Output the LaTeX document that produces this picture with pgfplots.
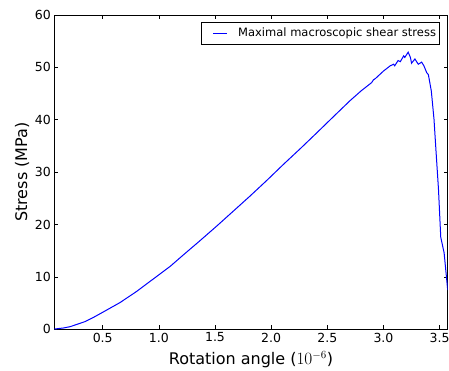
\documentclass[border=0pt]{standalone}
\usepackage{pgfplots}
\pgfplotsset{compat=1.18}
\usepackage{fontspec}
\setmainfont{DejaVu Sans}
\begin{document}
\begin{tikzpicture}
\begin{axis}[
  at={(0pt,0pt)}, anchor=south west,
  scale only axis, width=393.4pt, height=314.3pt,
  xmin=0.069, xmax=3.572, ymin=0, ymax=60,
  xtick={0.5,1,1.5,2,2.5,3,3.5},
  xticklabels={0.5,1.0,1.5,2.0,2.5,3.0,3.5},
  ytick={0,10,20,30,40,50,60},
  tick align=inside, xtick pos=both, ytick pos=both,
  major tick length=4pt,
  tick style={black, line width=0.6pt},
  axis line style={black, line width=0.8pt},
  ticklabel style={font=\fontsize{12.5}{14}\selectfont},
  /pgf/number format/assume math mode=true,
  xlabel={Rotation angle ($10^{-6}$)},
  ylabel={Stress (MPa)},
  every axis x label/.style={at={(axis description cs:0.5,0)}, yshift=-30.7pt, anchor=center, font=\fontsize{16}{19}\selectfont},
  every axis y label/.style={at={(axis description cs:0,0.5)}, xshift=-32.3pt, rotate=90, anchor=center, font=\fontsize{16}{19}\selectfont},
  legend style={at={(1,1)}, anchor=north east, xshift=-8.4pt, yshift=-6.7pt,
    draw=black, line width=0.6pt, font=\fontsize{11.5}{13}\selectfont,
    inner xsep=1pt, inner ysep=4pt},
  legend cell align=left,
  legend image code/.code={\path (-4pt,0pt) (28.6pt,0pt); \draw[#1, line width=1pt] (6pt,0pt) -- (20.3pt,0pt);},
]
\addplot[blue, line width=1pt] coordinates {
(0.069,0.05) (0.15,0.25) (0.21,0.5) (0.34,1.45) (0.42,2.3) (0.5,3.25)
(0.654,5.1) (0.80,7.2) (0.95,9.6) (1.10,12.0) (1.218,14.2) (1.36,16.8)
(1.515,19.7) (1.66,22.5) (1.81,25.4) (1.96,28.4) (2.11,31.5) (2.26,34.5)
(2.406,37.5) (2.55,40.5) (2.70,43.6) (2.80,45.5) (2.895,47.1) (2.91,47.6)
(2.93,47.9) (3.0,49.3) (3.06,50.3) (3.09,50.6) (3.10,50.3) (3.13,51.3)
(3.15,51.1) (3.18,52.2) (3.19,51.9) (3.22,52.9) (3.24,51.9) (3.25,50.8)
(3.28,51.6) (3.31,50.6) (3.34,51.0) (3.36,50.3) (3.385,49.0) (3.40,48.6)
(3.426,45.5) (3.45,40.1) (3.465,35.0) (3.49,26.7) (3.51,17.6) (3.54,14.6)
(3.572,7.5)
};
\addlegendentry{Maximal macroscopic shear stress}
\end{axis}
\pgfresetboundingbox
\path (-54.3pt,-41.7pt) rectangle (394.7pt,329.3pt);
\end{tikzpicture}
\end{document}
